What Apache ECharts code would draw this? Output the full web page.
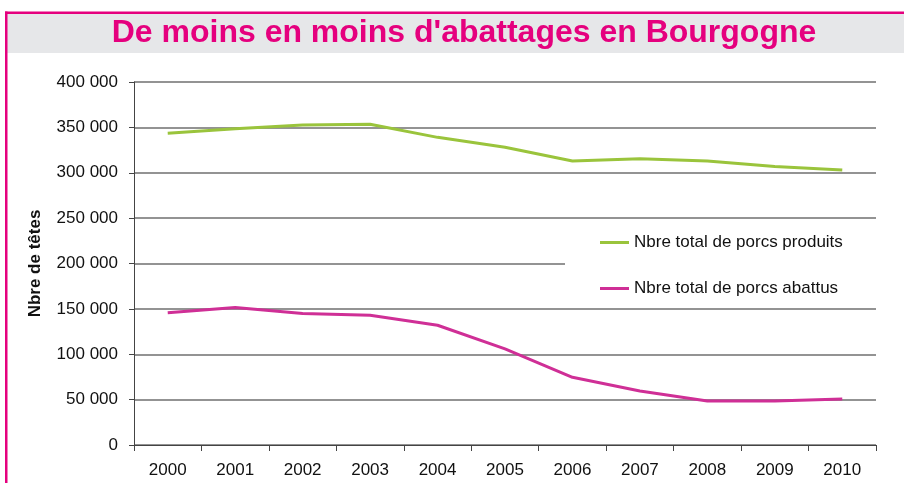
<!DOCTYPE html>
<html>
<head>
<meta charset="utf-8">
<script src="https://cdn.jsdelivr.net/npm/echarts@6/dist/echarts.min.js"></script>
<style>
html,body{margin:0;padding:0;background:#fff;}
#chart{width:904px;height:483px;}
</style>
</head>
<body>
<div id="chart"></div>
<script>
var titleText = "De moins en moins d'abattages en Bourgogne";
var years = ['2000','2001','2002','2003','2004','2005','2006','2007','2008','2009','2010'];
var seriesNames = ['Nbre total de porcs produits', 'Nbre total de porcs abattus'];
var produits = [343500, 348500, 352500, 353500, 339000, 328000, 313000, 315500, 313000, 307000, 303000];
var abattus  = [145800, 151500, 145000, 143000, 132000, 106000, 74600, 59500, 48500, 48500, 50700];
var yAxisName = 'Nbre de têtes';

var chart = echarts.init(document.getElementById('chart'));
var pink = '#e5007e';
var fontFam = '"Liberation Sans", Arial, sans-serif';

function fmt(v){
  var s = String(Math.round(v));
  return s.replace(/\B(?=(\d{3})+(?!\d))/g, ' ');
}

chart.setOption({
  animation: false,
  textStyle: {fontFamily: fontFam},
  graphic: [
    {type: 'rect', shape: {x: 6, y: 13.5, width: 898, height: 39.5}, style: {fill: '#e6e7e9'}, z: 0},
    {type: 'rect', shape: {x: 5, y: 11.5, width: 899, height: 2.5}, style: {fill: pink}, z: 1},
    {type: 'rect', shape: {x: 5, y: 11.5, width: 2.5, height: 472}, style: {fill: pink}, z: 1},
    {type: 'text', x: 464, y: 33, z: 2,
     style: {text: titleText, fill: pink, font: 'bold 32px ' + fontFam, textAlign: 'center', textVerticalAlign: 'middle'}}
  ],
  grid: {left: 134, right: 28, top: 82, bottom: 38, containLabel: false},
  legend: {
    orient: 'vertical',
    left: 565,
    top: 226,
    padding: [8, 42, 6, 35],
    itemGap: 29,
    itemWidth: 29,
    itemHeight: 3,
    icon: 'rect',
    backgroundColor: '#ffffff',
    textStyle: {fontSize: 17, color: '#111', fontFamily: fontFam, padding: [0, 0, 0, 0]},
    data: seriesNames
  },
  xAxis: {
    type: 'category',
    data: years,
    boundaryGap: true,
    axisLine: {lineStyle: {color: '#444', width: 1}},
    axisTick: {show: true, length: 6, lineStyle: {color: '#444'}},
    axisLabel: {fontSize: 17, color: '#111', margin: 17, fontFamily: fontFam},
    splitLine: {show: false}
  },
  yAxis: {
    type: 'value',
    min: 0, max: 400000, interval: 50000,
    name: yAxisName,
    nameLocation: 'middle',
    nameGap: 90,
    nameRotate: 90,
    nameTextStyle: {fontSize: 17, fontWeight: 'bold', color: '#111', fontFamily: fontFam},
    axisLine: {show: true, lineStyle: {color: '#444', width: 1}},
    axisTick: {show: true, length: 5, lineStyle: {color: '#444'}},
    axisLabel: {fontSize: 17, color: '#111', margin: 16, formatter: fmt, fontFamily: fontFam},
    splitLine: {show: true, lineStyle: {color: '#6f6f6f', width: 1.5}}
  },
  series: [
    {name: seriesNames[0], type: 'line', data: produits, symbol: 'none',
     lineStyle: {color: '#9ac43c', width: 3}, itemStyle: {color: '#9ac43c'}, z: 3},
    {name: seriesNames[1], type: 'line', data: abattus, symbol: 'none',
     lineStyle: {color: '#cf2f96', width: 3}, itemStyle: {color: '#cf2f96'}, z: 3}
  ]
});
</script>
</body>
</html>
